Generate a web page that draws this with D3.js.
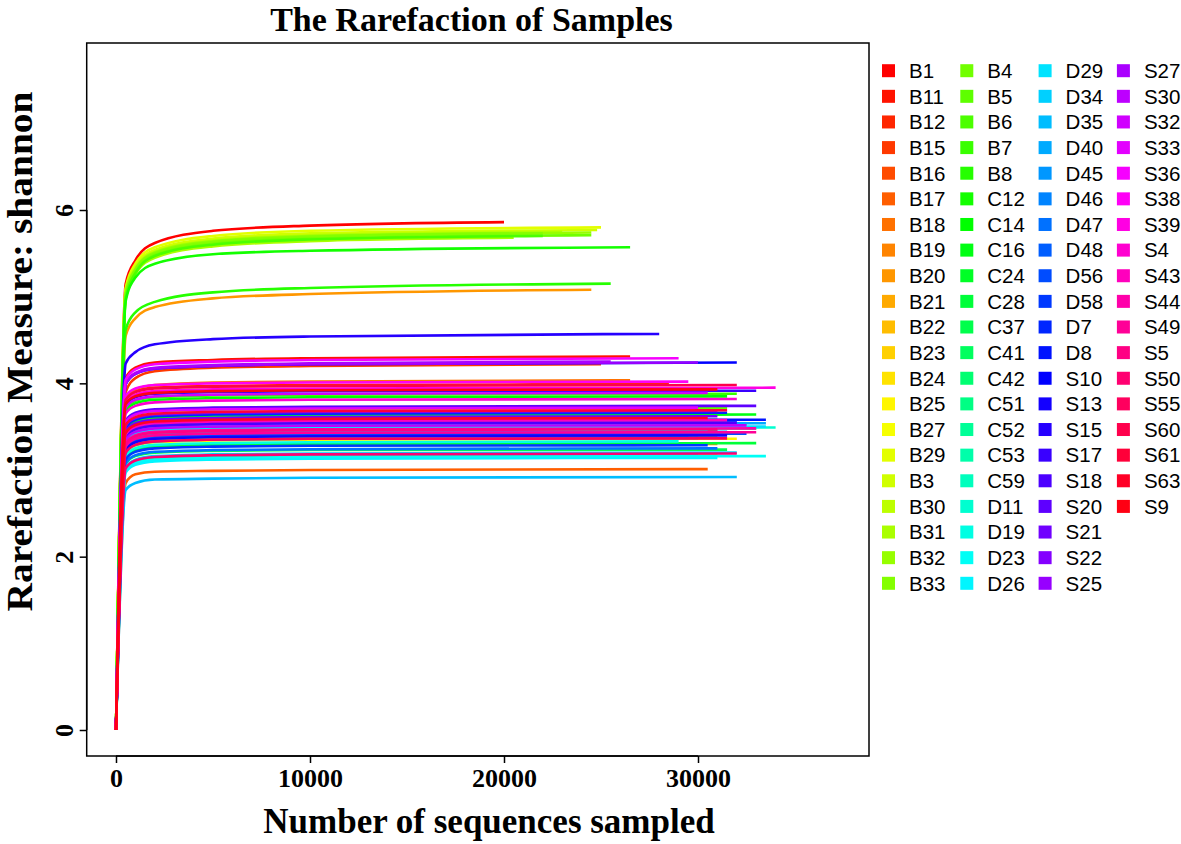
<!DOCTYPE html>
<html><head><meta charset="utf-8">
<script src="https://cdn.jsdelivr.net/npm/d3@7"></script>
<style>body{margin:0;background:#fff}svg{display:block}</style>
</head><body>
<svg id="chart" width="1181" height="844"></svg>
<script>
const samples = ["B1","B11","B12","B15","B16","B17","B18","B19","B20","B21","B22","B23","B24","B25","B27","B29","B3","B30","B31","B32","B33","B4","B5","B6","B7","B8","C12","C14","C16","C24","C28","C37","C41","C42","C51","C52","C53","C59","D11","D19","D23","D26","D29","D34","D35","D40","D45","D46","D47","D48","D56","D58","D7","D8","S10","S13","S15","S17","S18","S20","S21","S22","S25","S27","S30","S32","S33","S36","S38","S39","S4","S43","S44","S49","S5","S50","S55","S60","S61","S63","S9"];
const depthEnd = [20000,26500,28500,25000,31000,30500,26500,31000,24500,30000,31500,29000,31000,32000,31000,25000,24800,23000,20500,24500,22000,24500,31500,22000,32000,25500,26500,31500,33000,31000,33000,31500,33000,32500,30000,29500,30000,30500,34000,29000,33500,31000,33500,32000,32000,33500,31500,30000,31000,32000,32500,30500,31500,33500,32000,31500,28000,33000,32000,33000,31000,31000,30000,25500,32500,30500,30000,29000,29500,34000,32000,31500,33000,33000,31000,32000,31500,32000,31500,30500,31000];
const knotDepths = [1, 500, 1000, 2000, 5000, 10000];
const v1 = samples.map(() => 0);
const v500 = [5.15,4.06,3.82,3.90,3.29,2.85,3.83,3.13,4.55,3.38,3.25,3.45,3.21,3.19,3.01,5.10,5.08,5.06,4.98,5.04,5.03,5.00,3.55,4.98,3.71,4.62,4.95,3.68,3.47,3.41,3.14,3.07,3.31,3.35,3.44,3.23,3.01,3.28,3.32,3.16,2.99,2.97,3.33,3.03,2.77,3.37,3.27,3.20,3.08,3.39,3.25,3.12,3.49,3.41,3.99,3.23,4.23,3.75,3.38,3.57,3.45,3.51,3.99,4.00,3.35,3.72,3.55,4.04,3.85,3.78,3.65,3.41,3.31,3.27,3.30,3.02,3.20,3.81,3.52,3.43,3.76];
const v1000 = [5.42,4.18,3.91,4.06,3.38,2.95,3.93,3.22,4.75,3.47,3.34,3.54,3.30,3.28,3.10,5.38,5.35,5.33,5.26,5.32,5.31,5.28,3.64,5.27,3.80,4.82,5.22,3.77,3.56,3.50,3.23,3.16,3.40,3.44,3.53,3.32,3.10,3.37,3.41,3.25,3.08,3.06,3.42,3.12,2.85,3.46,3.36,3.29,3.17,3.48,3.34,3.21,3.58,3.50,4.11,3.32,4.36,3.84,3.47,3.66,3.54,3.60,4.11,4.12,3.44,3.81,3.64,4.16,3.94,3.87,3.74,3.50,3.40,3.36,3.39,3.11,3.29,3.90,3.61,3.52,3.85];
const v2000 = [5.62,4.24,3.95,4.14,3.42,2.98,3.98,3.26,4.88,3.51,3.38,3.58,3.34,3.32,3.14,5.57,5.54,5.52,5.45,5.51,5.50,5.48,3.68,5.47,3.84,4.94,5.38,3.81,3.60,3.54,3.27,3.20,3.44,3.48,3.57,3.36,3.14,3.41,3.45,3.29,3.12,3.10,3.46,3.16,2.89,3.50,3.40,3.33,3.21,3.52,3.38,3.25,3.62,3.54,4.17,3.36,4.45,3.88,3.51,3.70,3.58,3.64,4.17,4.18,3.48,3.85,3.68,4.22,3.98,3.91,3.78,3.54,3.44,3.40,3.43,3.15,3.33,3.94,3.65,3.56,3.89];
const v5000 = [5.76,4.27,3.97,4.18,3.44,2.99,4.01,3.28,4.98,3.53,3.40,3.60,3.36,3.34,3.16,5.70,5.67,5.65,5.58,5.64,5.63,5.61,3.70,5.60,3.86,5.05,5.49,3.83,3.62,3.56,3.29,3.22,3.46,3.50,3.59,3.38,3.16,3.43,3.47,3.31,3.14,3.12,3.48,3.18,2.90,3.52,3.42,3.35,3.23,3.54,3.40,3.27,3.64,3.56,4.20,3.38,4.51,3.90,3.53,3.72,3.60,3.66,4.20,4.21,3.50,3.87,3.70,4.25,4.00,3.93,3.80,3.56,3.46,3.42,3.45,3.17,3.35,3.96,3.67,3.58,3.91];
const v10000 = [5.82,4.29,3.98,4.20,3.45,3.00,4.02,3.29,5.03,3.54,3.41,3.61,3.37,3.35,3.17,5.76,5.73,5.71,5.64,5.70,5.69,5.67,3.71,5.66,3.87,5.10,5.53,3.84,3.63,3.57,3.30,3.23,3.47,3.51,3.60,3.39,3.17,3.44,3.48,3.32,3.15,3.13,3.49,3.19,2.91,3.53,3.43,3.36,3.24,3.55,3.41,3.28,3.65,3.57,4.22,3.39,4.54,3.91,3.54,3.73,3.61,3.67,4.22,4.23,3.51,3.88,3.71,4.27,4.01,3.94,3.81,3.57,3.47,3.43,3.46,3.18,3.36,3.97,3.68,3.59,3.92];
const vEnd = [5.86,4.31,3.99,4.22,3.46,3.01,4.035,3.30,5.08,3.55,3.42,3.62,3.38,3.36,3.18,5.80,5.77,5.75,5.68,5.74,5.73,5.71,3.72,5.70,3.88,5.15,5.57,3.85,3.64,3.58,3.31,3.235,3.48,3.52,3.61,3.40,3.18,3.45,3.49,3.33,3.16,3.14,3.50,3.20,2.92,3.54,3.44,3.37,3.25,3.56,3.42,3.285,3.66,3.58,4.24,3.40,4.57,3.915,3.545,3.74,3.62,3.68,4.24,4.25,3.515,3.89,3.72,4.29,4.02,3.95,3.82,3.575,3.48,3.435,3.47,3.19,3.365,3.98,3.69,3.60,3.93];
const xTicks = [0, 10000, 20000, 30000];
const yTicks = [0, 2, 4, 6];
const titleText = "The Rarefaction of Samples";
const xLabel = "Number of sequences sampled";
const yLabel = "Rarefaction Measure: shannon";

const knotValues = [v1, v500, v1000, v2000, v5000, v10000];
const svg = d3.select("#chart");
const L = 86.7, R = 869, T = 43, B = 756;
const x = d3.scaleLinear().domain([-1510, 38814]).range([L, R]);
const y = d3.scaleLinear().domain([-0.3, 7.927]).range([B, T]);
const n = samples.length;
const color = i => d3.hsl(360 * i / n, 1, 0.5).formatHex();

svg.append("clipPath").attr("id","clip").append("rect")
  .attr("x", L).attr("y", T).attr("width", R - L).attr("height", B - T);

const series = samples.map((s, i) => {
  const pts = knotDepths.map((d, k) => [d, knotValues[k][i]]).filter(p => p[0] < depthEnd[i]);
  pts.push([depthEnd[i], vEnd[i]]);
  return {name: s, i, pts};
});
const line = d3.line().x(d => x(d[0])).y(d => y(d[1])).curve(d3.curveMonotoneX);
svg.append("g").attr("clip-path","url(#clip)")
  .selectAll("path").data(series).join("path")
  .attr("d", d => line(d.pts)).attr("fill","none")
  .attr("stroke", d => color(d.i)).attr("stroke-width", 2.6)
  .attr("stroke-linejoin","round").attr("stroke-linecap","butt");

svg.append("rect").attr("x", L).attr("y", T).attr("width", R - L).attr("height", B - T)
  .attr("fill","none").attr("stroke","#000").attr("stroke-width",1.5);

const serif = "'Liberation Serif','Times New Roman',serif";
// x axis
const xa = svg.append("g").attr("transform", `translate(0,${B})`)
  .call(d3.axisBottom(x).tickValues(xTicks).tickSize(7).tickFormat(d3.format("d")));
xa.select(".domain").attr("d", `M${x(xTicks[0])},0H${x(xTicks[xTicks.length-1])}`).attr("stroke-width",1.5);
xa.selectAll(".tick line").attr("stroke-width",1.5);
xa.selectAll(".tick text").attr("font-family", serif).attr("font-weight","bold")
  .attr("font-size", 26).attr("fill","#000").attr("dy", null).attr("y", 31);
// y axis
const ya = svg.append("g").attr("transform", `translate(${L},0)`)
  .call(d3.axisLeft(y).tickValues(yTicks).tickSize(7).tickFormat(d3.format("d")));
ya.select(".domain").attr("d", `M0,${y(yTicks[0])}V${y(yTicks[yTicks.length-1])}`).attr("stroke-width",1.5);
ya.selectAll(".tick line").attr("stroke-width",1.5);
ya.selectAll(".tick text").attr("font-family", serif).attr("font-weight","bold")
  .attr("font-size", 26).attr("fill","#000")
  .attr("x", null).attr("dy", null).attr("text-anchor","middle")
  .attr("transform", "translate(-14,0) rotate(-90)");

svg.append("text").attr("x", 471.5).attr("y", 31).attr("text-anchor","middle")
  .attr("font-family", serif).attr("font-weight","bold").attr("font-size", 34).text(titleText);
svg.append("text").attr("x", 489).attr("y", 833).attr("text-anchor","middle")
  .attr("font-family", serif).attr("font-weight","bold").attr("font-size", 35).text(xLabel);
svg.append("text").attr("transform", "translate(32,351.5) rotate(-90)").attr("text-anchor","middle")
  .attr("font-family", serif).attr("font-weight","bold").attr("font-size", 36)
  .attr("textLength", 520).attr("lengthAdjust","spacingAndGlyphs").text(yLabel);

// legend
const perCol = 21, colW = 78.3, rowH = 25.63, lx = 882, ly = 70.7;
const lg = svg.append("g").selectAll("g").data(series).join("g")
  .attr("transform", d => `translate(${lx + Math.floor(d.i / perCol) * colW},${ly + (d.i % perCol) * rowH})`);
lg.append("rect").attr("x",0).attr("y",-6.5).attr("width",13).attr("height",13).attr("fill", d => color(d.i));
lg.append("text").attr("x", 27).attr("y", 7.3).attr("font-family","'Liberation Sans',Arial,sans-serif")
  .attr("font-size", 20.5).attr("fill","#000").text(d => d.name);
</script>
</body></html>
